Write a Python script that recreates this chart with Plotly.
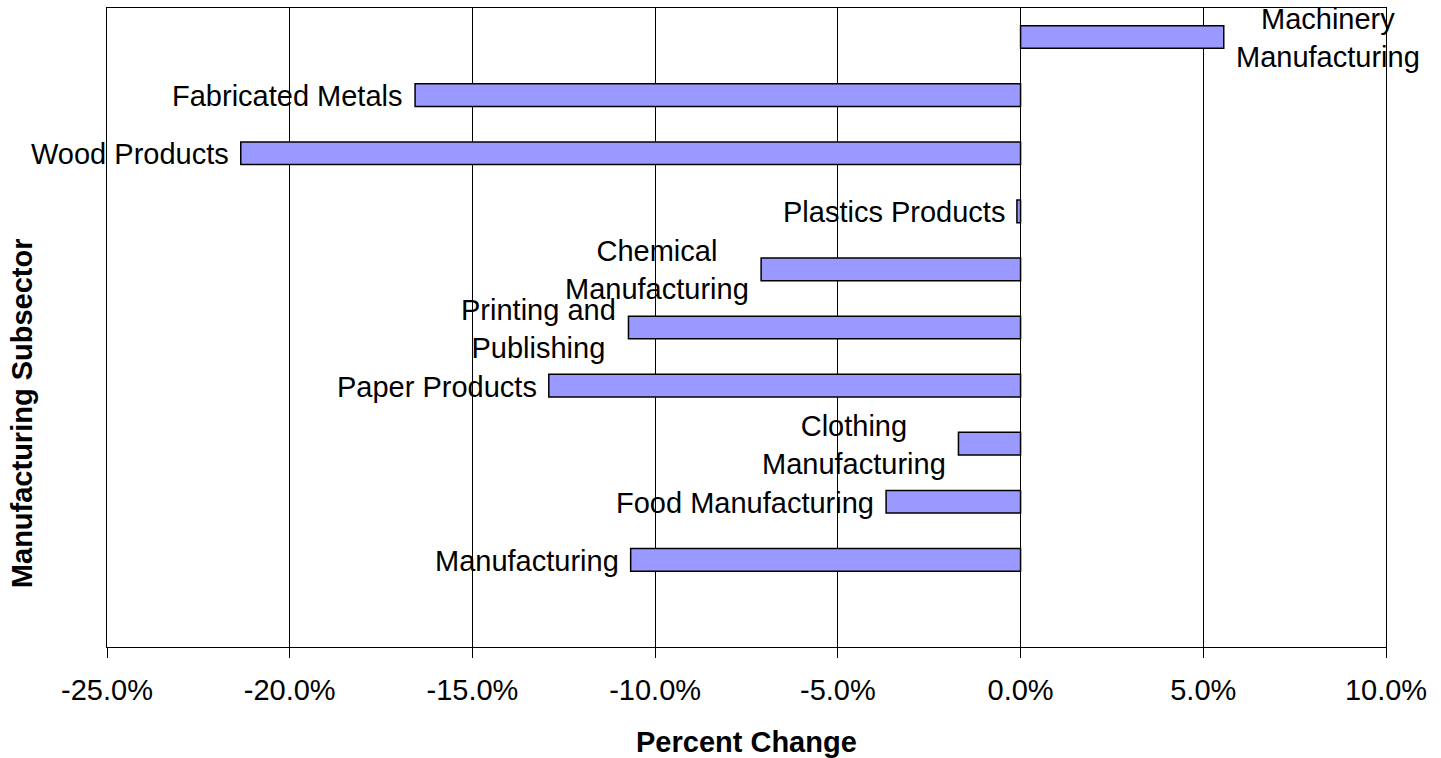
import plotly.graph_objects as go

# ---- data (bottom to top, as on the category axis) ----
subsectors = [
    "Manufacturing",
    "Food Manufacturing",
    "Clothing Manufacturing",
    "Paper Products",
    "Printing and Publishing",
    "Chemical Manufacturing",
    "Plastics Products",
    "Wood Products",
    "Fabricated Metals",
    "Machinery Manufacturing",
]
display_labels = [
    "Manufacturing",
    "Food Manufacturing",
    "Clothing<br>Manufacturing",
    "Paper Products",
    "Printing and<br>Publishing",
    "Chemical<br>Manufacturing",
    "Plastics Products",
    "Wood Products",
    "Fabricated Metals",
    "Machinery<br>Manufacturing",
]
pct_change = [-10.67, -3.68, -1.70, -12.91, -10.73, -7.10, -0.10, -21.34, -16.57, 5.56]

tick_values = [-25, -20, -15, -10, -5, 0, 5, 10]
tick_labels = ["-25.0%", "-20.0%", "-15.0%", "-10.0%", "-5.0%", "0.0%", "5.0%", "10.0%"]

FONT = "Liberation Sans, Arial, sans-serif"
FS = 29

fig = go.Figure()
fig.add_trace(go.Bar(
    x=pct_change,
    y=subsectors,
    orientation="h",
    marker=dict(color="#9999FF", line=dict(color="#000000", width=1.5)),
    hoverinfo="x+y",
))

annotations = []
for name, lab, v in zip(subsectors, display_labels, pct_change):
    annotations.append(dict(
        x=v, y=name, xref="x", yref="y",
        text=lab, showarrow=False,
        xanchor="left" if v >= 0 else "right",
        yanchor="middle",
        xshift=10 if v >= 0 else -10,
        yshift=-1,
        align="center",
        font=dict(family=FONT, size=FS, color="#000000"),
    ))

# axis titles
annotations.append(dict(
    text="<b>Percent Change</b>", xref="paper", yref="paper",
    x=0.5, y=0, xanchor="center", yanchor="middle", yshift=-95,
    showarrow=False, font=dict(family=FONT, size=FS, color="#000000"),
))
annotations.append(dict(
    text="<b>Manufacturing Subsector</b>", xref="paper", yref="paper",
    x=0, y=0.366, xanchor="center", yanchor="middle", xshift=-85,
    textangle=-90, showarrow=False,
    font=dict(family=FONT, size=FS, color="#000000"),
))

fig.update_layout(
    width=1441, height=758,
    margin=dict(l=107, r=55, t=8, b=111),
    paper_bgcolor="#FFFFFF", plot_bgcolor="#FFFFFF",
    bargap=0.61,
    showlegend=False,
    font=dict(family=FONT, size=FS, color="#000000"),
    annotations=annotations,
    xaxis=dict(
        range=[-25, 10],
        tickmode="array", tickvals=tick_values, ticktext=tick_labels,
        ticks="outside", ticklen=10, tickwidth=1, tickcolor="#000000",
        ticklabelstandoff=7,
        showgrid=True, gridcolor="#000000", gridwidth=1,
        zeroline=False,
        showline=True, linecolor="#000000", linewidth=1, mirror=True,
        tickfont=dict(family=FONT, size=FS, color="#000000"),
    ),
    yaxis=dict(
        type="category",
        categoryorder="array", categoryarray=subsectors,
        range=[-1.5, 9.5],
        showticklabels=False, ticks="",
        showgrid=False, zeroline=False,
        showline=True, linecolor="#000000", linewidth=1, mirror=True,
    ),
)

fig.write_html(
    "out.html",
    config={"displayModeBar": False},
    post_script="document.body.style.margin='0px';",
)
